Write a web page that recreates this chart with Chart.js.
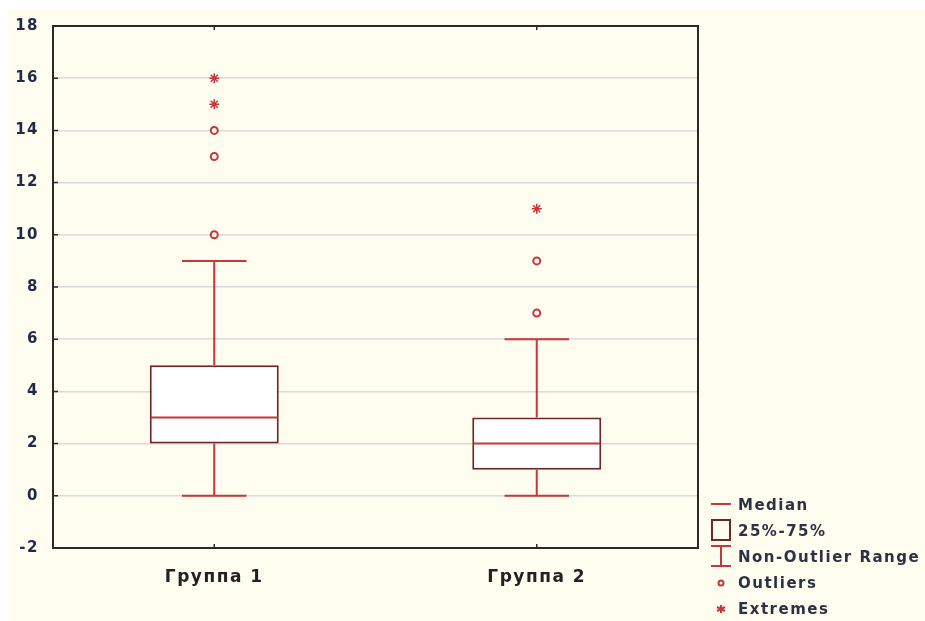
<!DOCTYPE html>
<html>
<head>
<meta charset="utf-8">
<script src="https://cdn.jsdelivr.net/npm/chart.js@4.4.1/dist/chart.umd.min.js"></script>
<style>
    html, body { margin: 0; padding: 0; background: #fff; }
    #wrap { position: absolute; left: 8px; top: 10px; width: 917px; height: 611px; background: #fffcf0; }
    #chart { position: absolute; left: 0; top: 0; }
    #legend {
        position: absolute; left: 702px; top: 482px;
        font-family: 'DejaVu Sans', sans-serif; font-weight: bold; font-size: 15px;
        letter-spacing: 1.5px; color: #2b3342;
    }
    .leg-row { height: 26px; line-height: 26px; white-space: nowrap; }
    .leg-row svg { vertical-align: middle; margin-right: 6px; position: relative; top: -2px; }
</style>
</head>
<body>
<div id="wrap">
    <canvas id="chart" width="917" height="611"></canvas>
    <div id="legend"></div>
</div>
<script>
'use strict';

// ─────────────────────────────────────────────────────────────────────────────
// Données — boîtes à moustaches
// ─────────────────────────────────────────────────────────────────────────────

var categories = ['Группа 1', 'Группа 2'];
var q1 = [2, 1];
var medians = [3, 2];
var q3 = [5, 3];
var whiskerLow = [0, 0];
var whiskerHigh = [9, 6];
var outliers = [[10, 13, 14], [7, 9]];
var extremes = [[15, 16], [11]];
var yTicks = [-2, 0, 2, 4, 6, 8, 10, 12, 14, 16, 18];

var COLORS = {
    whisker: '#c8353a',
    box: '#6e2628',
    grid: '#dadada',
    frame: '#2a2a2a'
};

function toPoints(groups) {
    var pts = [];
    groups.forEach(function(vals, i) {
        vals.forEach(function(v) { pts.push({ x: categories[i], y: v }); });
    });
    return pts;
}

// moustaches, médianes, cadre
var boxPlotPlugin = {
    id: 'boxPlot',
    beforeDraw: function(chart) {
        chart.ctx.letterSpacing = '1.5px';
    },
    beforeDatasetsDraw: function(chart) {
        var ctx = chart.ctx;
        var y = chart.scales.y;
        var bars = chart.getDatasetMeta(0).data;
        ctx.save();
        ctx.strokeStyle = COLORS.whisker;
        ctx.lineWidth = 2;
        bars.forEach(function(bar, i) {
            var cap = bar.width / 4;
            var yLow = y.getPixelForValue(whiskerLow[i]);
            var yHigh = y.getPixelForValue(whiskerHigh[i]);
            ctx.beginPath();
            ctx.moveTo(bar.x, y.getPixelForValue(q1[i]));
            ctx.lineTo(bar.x, yLow);
            ctx.moveTo(bar.x - cap, yLow);
            ctx.lineTo(bar.x + cap, yLow);
            ctx.moveTo(bar.x, y.getPixelForValue(q3[i]));
            ctx.lineTo(bar.x, yHigh);
            ctx.moveTo(bar.x - cap, yHigh);
            ctx.lineTo(bar.x + cap, yHigh);
            ctx.stroke();
        });
        ctx.restore();
    },
    afterDatasetsDraw: function(chart) {
        var ctx = chart.ctx;
        var y = chart.scales.y;
        var x = chart.scales.x;
        var area = chart.chartArea;
        var bars = chart.getDatasetMeta(0).data;
        ctx.save();
        ctx.strokeStyle = COLORS.whisker;
        ctx.lineWidth = 2;
        bars.forEach(function(bar, i) {
            var ym = y.getPixelForValue(medians[i]);
            ctx.beginPath();
            ctx.moveTo(bar.x - bar.width / 2 + 1, ym);
            ctx.lineTo(bar.x + bar.width / 2 - 1, ym);
            ctx.stroke();
        });

        // cadre + petites graduations intérieures
        ctx.strokeStyle = COLORS.frame;
        ctx.lineWidth = 2;
        ctx.strokeRect(area.left, area.top, area.right - area.left, area.bottom - area.top);
        ctx.lineWidth = 1.5;
        ctx.beginPath();
        yTicks.forEach(function(v) {
            var py = y.getPixelForValue(v);
            ctx.moveTo(area.left, py);
            ctx.lineTo(area.left + 5, py);
        });
        categories.forEach(function(c, i) {
            var px = x.getPixelForValue(i);
            ctx.moveTo(px, area.top);
            ctx.lineTo(px, area.top + 4);
            ctx.moveTo(px, area.bottom);
            ctx.lineTo(px, area.bottom - 4);
        });
        ctx.stroke();
        ctx.restore();
    }
};

Chart.defaults.font.family = "'DejaVu Sans', sans-serif";

var chartBox = new Chart(document.getElementById('chart'), {
    type: 'bar',
    data: {
        labels: categories,
        datasets: [
            {
                label: '25%-75%',
                data: categories.map(function(c, i) { return [q1[i], q3[i]]; }),
                backgroundColor: '#ffffff',
                borderColor: COLORS.box,
                borderWidth: 2,
                borderSkipped: false,
                barPercentage: 0.4,
                categoryPercentage: 1
            },
            {
                type: 'line',
                label: 'Outliers',
                data: toPoints(outliers),
                showLine: false,
                pointStyle: 'circle',
                pointRadius: 3.5,
                pointBorderWidth: 2,
                pointBorderColor: COLORS.whisker,
                pointBackgroundColor: '#ffffff'
            },
            {
                type: 'line',
                label: 'Extremes',
                data: toPoints(extremes),
                showLine: false,
                pointStyle: 'star',
                pointRadius: 5,
                pointBorderWidth: 1.5,
                pointBorderColor: COLORS.whisker,
                pointBackgroundColor: COLORS.whisker
            }
        ]
    },
    options: {
        responsive: false,
        animation: false,
        layout: { padding: { top: 16, right: 227, left: 0, bottom: 0 } },
        plugins: {
            legend: { display: false },
            tooltip: { enabled: false }
        },
        scales: {
            x: {
                offset: true,
                grid: { display: false, drawTicks: false },
                border: { display: false },
                ticks: {
                    padding: 19,
                    color: '#222222',
                    font: { size: 17, weight: 'bold' }
                },
                afterFit: function(scale) {
                    scale.height = 73;
                    scale.paddingLeft = 0;
                    scale.paddingRight = 0;
                }
            },
            y: {
                min: -2,
                max: 18,
                afterBuildTicks: function(scale) {
                    scale.ticks = yTicks.map(function(v) { return { value: v }; });
                },
                grid: {
                    color: COLORS.grid,
                    lineWidth: 1.5,
                    drawTicks: false
                },
                border: { display: false },
                ticks: {
                    padding: 14,
                    color: '#1f2c48',
                    font: { size: 15, weight: 'bold' }
                },
                afterFit: function(scale) {
                    scale.width = 45;
                    scale.paddingTop = 0;
                    scale.paddingBottom = 0;
                }
            }
        }
    },
    plugins: [boxPlotPlugin]
});

// ─────────────────────────────────────────────────────────────────────────────
// Légende HTML
// ─────────────────────────────────────────────────────────────────────────────

var legendItems = [
    { label: 'Median', icon: '<line x1="1" y1="11" x2="21" y2="11" stroke="' + COLORS.whisker + '" stroke-width="2"/>' },
    { label: '25%-75%', icon: '<rect x="2" y="1" width="18" height="20" fill="none" stroke="' + COLORS.box + '" stroke-width="2"/>' },
    { label: 'Non-Outlier Range', icon: '<path d="M1 1H21M11 1V21M1 21H21" fill="none" stroke="' + COLORS.whisker + '" stroke-width="2"/>' },
    { label: 'Outliers', icon: '<circle cx="11" cy="12" r="2.5" fill="#fff" stroke="' + COLORS.whisker + '" stroke-width="2"/>' },
    { label: 'Extremes', icon: '<path d="M11 8V16M7 10L15 14M7 14L15 10" fill="none" stroke="' + COLORS.whisker + '" stroke-width="2"/>' }
];

var html = '';
legendItems.forEach(function(item) {
    html += '<div class="leg-row"><svg width="22" height="22">' + item.icon + '</svg>' + item.label + '</div>';
});
document.getElementById('legend').innerHTML = html;
</script>
</body>
</html>
